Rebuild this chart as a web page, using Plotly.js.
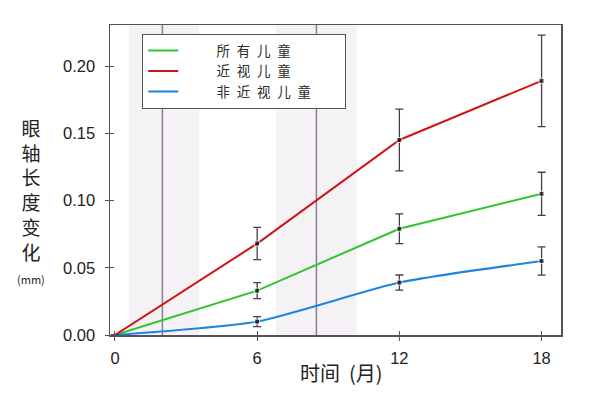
<!DOCTYPE html>
<html>
<head>
<meta charset="utf-8">
<script src="https://cdn.plot.ly/plotly-3.0.1.min.js"></script>
<style>html,body{margin:0;padding:0;background:#fff;}#chart{width:600px;height:399px;}</style>
</head>
<body>
<div id="chart"></div>
<script>
// Data
const months = [0, 6, 12, 18];
const seriesNames = ["所有儿童", "近视儿童", "非近视儿童"];
const allChildren = [0, 0.033, 0.079, 0.105];
const allChildrenErr = [0, 0.006, 0.011, 0.016];
const myopic = [0, 0.068, 0.145, 0.189];
const myopicErr = [0, 0.012, 0.023, 0.034];
const nonMyopic = [0, 0.010, 0.039, 0.055];
const nonMyopicErr = [0, 0.0037, 0.0056, 0.0105];
const xTicks = [0, 6, 12, 18];
const yTicks = [0, 0.05, 0.10, 0.15, 0.20];
const yTickText = ["0.00", "0.05", "0.10", "0.15", "0.20"];
const shadedPeriods = [[0.6, 3.55], [6.8, 10.2]];
const dividerMonths = [2.0, 8.5];

const FONT = "Liberation Sans, Arial, Noto Sans CJK SC, sans-serif";
const CJK = "Noto Sans CJK SC, sans-serif";
const spaced = s => s.split("").join("\u2002");
const NB = n => "\u00a0".repeat(n);
const PAD = "<span style='color:rgba(0,0,0,0)'>" + NB(8) + ".</span>";

const traces = [];
const specs = [
  [allChildren, allChildrenErr, seriesNames[0], "#2ec52e", "linear"],
  [myopic, myopicErr, seriesNames[1], "#d01414", "linear"],
  [nonMyopic, nonMyopicErr, seriesNames[2], "#1d84e0", "spline"]
];
specs.forEach(s => {
  traces.push({x: months, y: s[0], name: NB(11) + spaced(s[2]) + PAD, type: "scatter", mode: "lines",
    line: {color: s[3], width: 2, shape: s[4], smoothing: 0.6}});
});
specs.forEach(s => {
  traces.push({x: months, y: s[0], type: "scatter", mode: "markers", showlegend: false,
    marker: {symbol: "square", size: [0, 5, 5, 5], color: "#111"},
    error_y: {type: "data", array: s[1], visible: true, color: "#4a3a50", thickness: 1.3, width: 4}});
});
traces.push({x: [], y: [], xaxis: "x2", yaxis: "y2", showlegend: false, type: "scatter"});

const shapes = [];
shadedPeriods.forEach(p => shapes.push({type: "rect", xref: "x", yref: "paper", x0: p[0], x1: p[1], y0: 0, y1: 1,
  fillcolor: "#f5f2f6", line: {width: 0}, layer: "below"}));
dividerMonths.forEach(m => shapes.push({type: "line", xref: "x", yref: "paper", x0: m, x1: m, y0: 0, y1: 1,
  line: {color: "#8a7f8e", width: 1.5}, layer: "below"}));

const xr = [-0.21, 18.82], yr = [0, 0.2305];
const layout = {
  width: 600, height: 399,
  margin: {l: 110, r: 39, t: 25, b: 64},
  paper_bgcolor: "#fff", plot_bgcolor: "#fff",
  font: {family: FONT, color: "#222", size: 15},
  showlegend: true,
  legend: {x: 0.071, y: 0.971, xanchor: "left", yanchor: "top", bgcolor: "#fff",
    bordercolor: "#5a4d5e", borderwidth: 1.2, font: {family: CJK, size: 13.5, color: "#2a2a2a"},
    tracegroupgap: 0, itemwidth: 30},
  xaxis: {range: xr, tickvals: xTicks, ticktext: xTicks.map(String), ticks: "outside", ticklen: 4,
    tickcolor: "#5a4d5e", showline: true, linecolor: "#5a4d5e", linewidth: 1.5, mirror: true,
    showgrid: false, zeroline: false, tickfont: {size: 16.5, color: "#222"}, ticklabelstandoff: 4},
  yaxis: {range: yr, tickvals: yTicks, ticktext: yTickText, ticks: "outside", ticklen: 4,
    tickcolor: "#5a4d5e", showline: true, linecolor: "#5a4d5e", linewidth: 1.5, mirror: true,
    showgrid: false, zeroline: false, tickfont: {size: 16.5, color: "#222"}, ticklabelstandoff: 6},
  xaxis2: {overlaying: "x", anchor: "y2", range: xr, tickvals: xTicks, showticklabels: false, ticks: "inside",
    ticklen: 4, tickcolor: "#5a4d5e", showgrid: false, zeroline: false, showline: false},
  yaxis2: {overlaying: "y", anchor: "x2", range: yr, tickvals: yTicks, showticklabels: false, ticks: "inside",
    ticklen: 4, tickcolor: "#5a4d5e", showgrid: false, zeroline: false, showline: false},
  shapes: shapes,
  annotations: [
    {xref: "paper", yref: "paper", x: 0.513, y: -0.12, xanchor: "center", yanchor: "middle", showarrow: false,
      text: "时间" + NB(2) + "(月)", font: {family: CJK, size: 20, color: "#222"}},
    {xref: "paper", yref: "paper", x: -0.175, y: 0.72, xanchor: "center", yanchor: "top", showarrow: false,
      text: "眼<br>轴<br>长<br>度<br>变<br>化<br><span style='font-size:11px'>(mm)</span>",
      font: {family: CJK, size: 19, color: "#222"}}
  ]
};
Plotly.newPlot("chart", traces, layout, {displayModeBar: false, staticPlot: true});
</script>
</body>
</html>
